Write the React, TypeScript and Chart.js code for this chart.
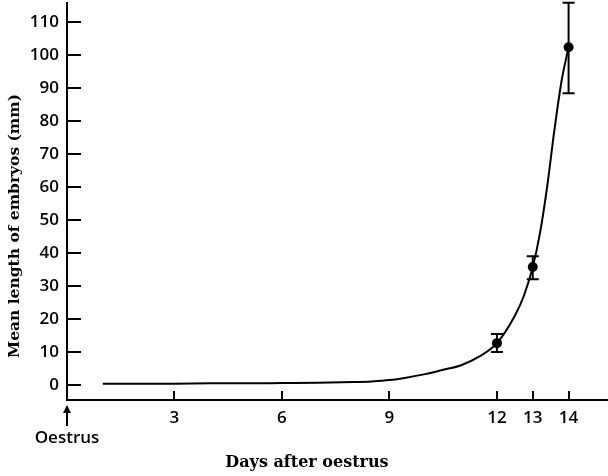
import React, { useEffect, useRef } from "react";
import { Chart, registerables } from "chart.js";

Chart.register(...registerables);

// Measured means (days after oestrus -> mean length, mm)
const dayPoints = [12, 13, 14];
const meanLength = [12.7, 35.8, 102.5];
const errLow = [10.0, 32.1, 88.5];
const errHigh = [15.5, 39.1, 116.0];

// Fitted growth curve
const curveDays = [1, 2, 3, 4, 5, 6, 7, 8, 8.5, 9, 9.5, 10, 10.5, 11, 11.5, 12, 12.5, 12.75, 13, 13.2, 13.4, 13.6, 13.8, 14];
const curveLength = [0.4, 0.4, 0.4, 0.5, 0.5, 0.6, 0.7, 0.9, 1.1, 1.5, 2.3, 3.3, 4.6, 6.0, 8.6, 12.7, 21, 27, 35.8, 46, 60, 77, 92, 102.5];

const xTicks = [0, 3, 6, 9, 12, 13, 14];
const yTicks = [0, 10, 20, 30, 40, 50, 60, 70, 80, 90, 100, 110];

const xTitle = "Days after oestrus";
const yTitle = "Mean length of embryos (mm)";
const oestrusLabel = "Oestrus";

const TICK_FONT = "'Open Sans', sans-serif";
const TITLE_FONT = "'DejaVu Serif', serif";

const decorPlugin = {
  id: "decor",
  afterDraw(chart: any) {
    const ctx = chart.ctx;
    const xs = chart.scales.x;
    const ys = chart.scales.y;
    const area = chart.chartArea;
    ctx.save();
    ctx.strokeStyle = "#000";
    ctx.fillStyle = "#000";
    ctx.lineWidth = 2;
    // y tick marks (inward)
    ys.ticks.forEach((t: any) => {
      const py = Math.round(ys.getPixelForValue(t.value));
      ctx.beginPath();
      ctx.moveTo(area.left, py);
      ctx.lineTo(area.left + 14, py);
      ctx.stroke();
    });
    // x tick marks (inward)
    xs.ticks.forEach((t: any) => {
      if (t.value === 0) return;
      const px = Math.round(xs.getPixelForValue(t.value));
      ctx.beginPath();
      ctx.moveTo(px, area.bottom);
      ctx.lineTo(px, area.bottom - 9);
      ctx.stroke();
    });
    // arrow marking oestrus
    const ax = xs.getPixelForValue(0);
    ctx.beginPath();
    ctx.moveTo(ax, area.bottom + 26);
    ctx.lineTo(ax, area.bottom + 8);
    ctx.stroke();
    ctx.beginPath();
    ctx.moveTo(ax, area.bottom + 5);
    ctx.lineTo(ax - 4, area.bottom + 13);
    ctx.lineTo(ax + 4, area.bottom + 13);
    ctx.closePath();
    ctx.fill();
    // error bars
    const cap = 6;
    dayPoints.forEach((d, i) => {
      const px = xs.getPixelForValue(d);
      const lo = ys.getPixelForValue(errLow[i]);
      const hi = ys.getPixelForValue(errHigh[i]);
      ctx.beginPath();
      ctx.moveTo(px, lo);
      ctx.lineTo(px, hi);
      ctx.moveTo(px - cap, lo);
      ctx.lineTo(px + cap, lo);
      ctx.moveTo(px - cap, hi);
      ctx.lineTo(px + cap, hi);
      ctx.stroke();
    });
    // x axis title (centred on the figure)
    ctx.textAlign = "center";
    ctx.textBaseline = "middle";
    ctx.font = "bold 16px " + TITLE_FONT;
    ctx.fillText(xTitle, 307, 463);
    // y axis title
    ctx.font = "bold 15.5px " + TITLE_FONT;
    ctx.translate(15, 226);
    ctx.rotate(-Math.PI / 2);
    ctx.fillText(yTitle, 0, 0);
    ctx.restore();
  },
};

export default function App() {
  const ref = useRef<HTMLCanvasElement | null>(null);
  useEffect(() => {
    if (!ref.current) return;
    const chart = new Chart(ref.current, {
      type: "scatter",
      data: {
        datasets: [
          {
            label: "curve",
            data: curveDays.map((d, i) => ({ x: d, y: curveLength[i] })),
            showLine: true,
            borderColor: "#000",
            borderWidth: 2,
            pointRadius: 0,
            cubicInterpolationMode: "monotone",
          } as any,
          {
            label: "means",
            data: dayPoints.map((d, i) => ({ x: d, y: meanLength[i] })),
            showLine: false,
            pointRadius: 5,
            pointBackgroundColor: "#000",
            pointBorderColor: "#000",
            borderWidth: 0,
          },
        ],
      },
      options: {
        animation: false,
        responsive: false,
        layout: { autoPadding: false, padding: { top: 3, left: 0, right: 0, bottom: 0 } },
        plugins: { legend: { display: false }, tooltip: { enabled: false } },
        scales: {
          x: {
            type: "linear",
            min: 0,
            max: 15.1,
            afterBuildTicks: (s: any) => {
              s.ticks = xTicks.map((v) => ({ value: v }));
            },
            afterFit: (s: any) => {
              s.height = 76;
              s.paddingLeft = 0;
              s.paddingRight = 0;
            },
            ticks: {
              autoSkip: false,
              maxRotation: 0,
              padding: 8,
              color: "#000",
              font: { family: TICK_FONT, size: 17, weight: "600" },
              callback: (v: any) => (v === 0 ? ["", oestrusLabel] : String(v)),
            },
            grid: { display: true, drawOnChartArea: false, drawTicks: false },
            border: { display: true, color: "#000", width: 2 },
          },
          y: {
            type: "linear",
            min: -4.55,
            max: 115.9,
            afterBuildTicks: (s: any) => {
              s.ticks = yTicks.map((v) => ({ value: v }));
            },
            afterFit: (s: any) => {
              s.width = 67;
              s.paddingTop = 0;
              s.paddingBottom = 0;
            },
            ticks: {
              padding: 8,
              color: "#000",
              font: { family: TICK_FONT, size: 17, weight: "600" },
            },
            grid: { display: true, drawOnChartArea: false, drawTicks: false },
            border: { display: true, color: "#000", width: 2 },
          },
        },
      },
      plugins: [decorPlugin],
    });
    return () => chart.destroy();
  }, []);
  return (
    <div style={{ position: "absolute", left: 0, top: 0, width: 608, height: 476, background: "#fff" }}>
      <canvas ref={ref} width={608} height={476} style={{ display: "block" }} />
    </div>
  );
}
